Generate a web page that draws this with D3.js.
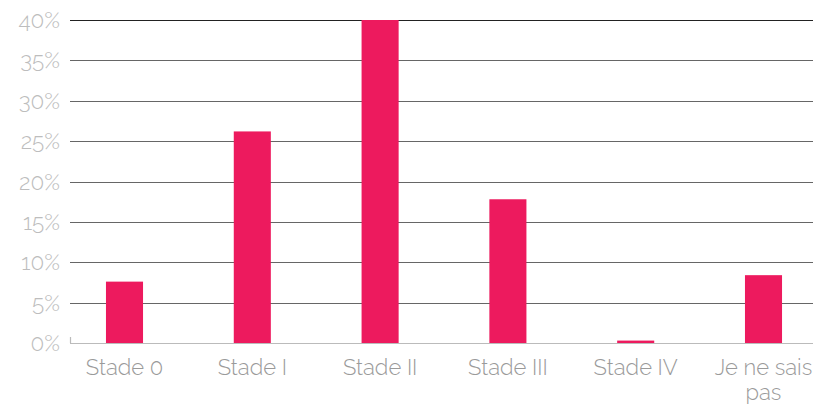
<!DOCTYPE html>
<html><head><meta charset="utf-8">
<script src="https://cdn.jsdelivr.net/npm/d3@7"></script>
<style>body{margin:0;background:#fff}svg{display:block}</style>
</head><body>
<script>
const categories = ["Stade 0", "Stade I", "Stade II", "Stade III", "Stade IV", "Je ne sais pas"];
const values = [7.6, 26.2, 40.0, 17.8, 0.3, 8.4];
const yTicks = [0, 5, 10, 15, 20, 25, 30, 35, 40];

const W = 813, H = 404;
const svg = d3.select("body").append("svg").attr("width", W).attr("height", H);
const font = "Raleway, Lato, 'Open Sans', sans-serif";

const y = d3.scaleLinear().domain([0, 40]).range([343, 20]);
const x = d3.scaleBand().domain(categories).range([60.6, 827.4]).paddingInner(0.71).paddingOuter(0.355);
const axisLeft = 70, axisRight = W;

// gridlines
svg.append("g").selectAll("line").data(yTicks.filter(d => d > 0)).join("line")
  .attr("x1", axisLeft).attr("x2", axisRight)
  .attr("y1", d => Math.round(y(d)) + 0.5).attr("y2", d => Math.round(y(d)) + 0.5)
  .attr("stroke", d => d === 40 ? "#222" : "#666").attr("stroke-width", 1.2);

// baseline
svg.append("line").attr("x1", axisLeft).attr("x2", axisRight)
  .attr("y1", Math.round(y(0)) + 0.5).attr("y2", Math.round(y(0)) + 0.5)
  .attr("stroke", "#bbb").attr("stroke-width", 1.2);
svg.append("line").attr("x1", axisLeft + 0.5).attr("x2", axisLeft + 0.5)
  .attr("y1", y(0) - 6).attr("y2", y(0)).attr("stroke", "#bbb").attr("stroke-width", 1.2);

// y labels
svg.append("g").selectAll("text").data(yTicks).join("text")
  .attr("x", 60).attr("y", d => y(d)).attr("dy", "0.36em")
  .attr("text-anchor", "end").attr("fill", "#bdbdbd")
  .style("font-family", font).style("font-size", "22.5px").style("font-weight", 300)
  .text(d => d + "%");

// bars
svg.append("g").selectAll("rect").data(values).join("rect")
  .attr("x", (d, i) => x(categories[i])).attr("width", x.bandwidth())
  .attr("y", d => y(d)).attr("height", d => y(0) - y(d))
  .attr("fill", "#ED1A5E");

// x labels
const wrap = { "Je ne sais pas": ["Je ne sais", "pas"] };
const xl = svg.append("g").selectAll("text").data(categories).join("text")
  .attr("x", d => x(d) + x.bandwidth() / 2).attr("y", 375)
  .attr("text-anchor", "middle").attr("fill", "#9a9a9a")
  .style("font-family", font).style("font-size", "22px").style("font-weight", 300);
xl.each(function(d) {
  const lines = wrap[d] || [d];
  const t = d3.select(this);
  lines.forEach((l, i) => t.append("tspan").attr("x", x(d) + x.bandwidth() / 2).attr("dy", i === 0 ? 0 : 25).text(l));
});
</script>
</body></html>
